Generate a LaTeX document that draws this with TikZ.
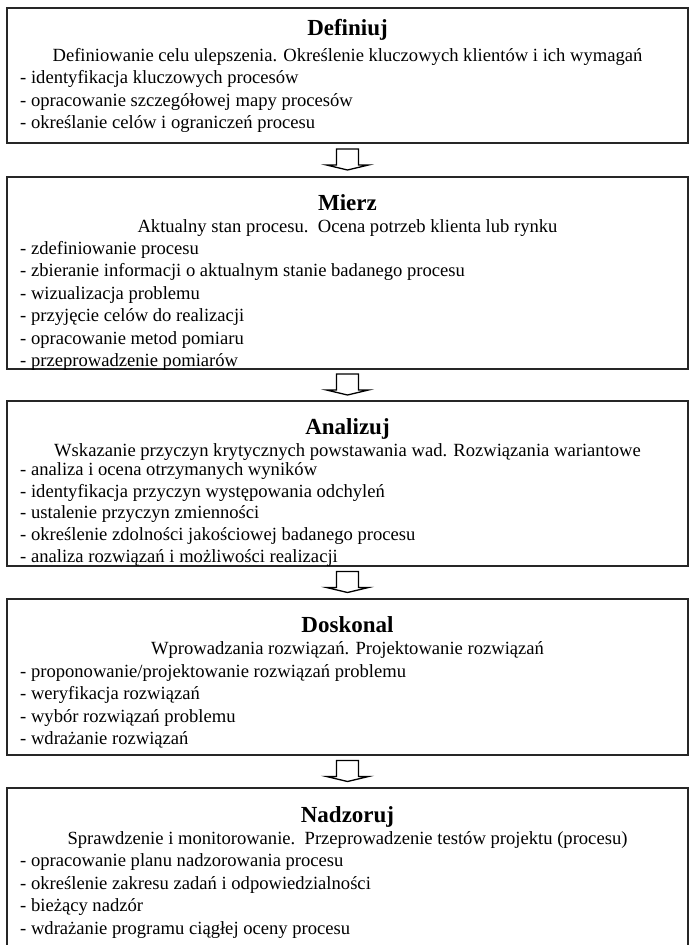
\documentclass[tikz,border=0pt]{standalone}
\usepackage{fontspec}
\setmainfont{Liberation Serif}
\usetikzlibrary{calc}
\tikzset{
  stagebox/.style={draw=black!85, line width=1.6pt, anchor=north west, minimum width=681pt, inner sep=0pt, outer sep=0pt},
  stagetitle/.style={anchor=base, font=\fontsize{23}{26}\selectfont\bfseries, inner sep=0pt},
  stagesub/.style={anchor=base, font=\fontsize{18.6}{22}\selectfont, inner sep=0pt},
  stagelist/.style={anchor=base west, font=\fontsize{18.6}{22.5}\selectfont, align=left, inner sep=0pt},
  blockarrow/.style={draw=black, line width=1.3pt, fill=white, line join=miter}
}
\newcommand\stagearrow[3]{%
  \path ($(#1.south)!0.5!(#2.north)$) coordinate (#3);
  \draw[blockarrow] ([shift={(-11pt,11pt)}]#3) -- ([shift={(-11pt,-5pt)}]#3) -- ([shift={(-21pt,-5pt)}]#3)
    -- ([shift={(0pt,-10pt)}]#3) -- ([shift={(21pt,-5pt)}]#3) -- ([shift={(11pt,-5pt)}]#3)
    -- ([shift={(11pt,11pt)}]#3) -- cycle;}
\begin{document}
\begin{tikzpicture}[x=1pt,y=-1pt]
\useasboundingbox (0,0) rectangle (690,945);
\clip (0,0) rectangle (690,945);
% boxes
\node[stagebox, minimum height=135pt] (b1) at (7,8) {};
\node[stagebox, minimum height=192pt] (b2) at (7,177) {};
\node[stagebox, minimum height=165pt] (b3) at (7,401) {};
\node[stagebox, minimum height=156pt] (b4) at (7,599) {};
\node[stagebox, minimum height=200pt] (b5) at (7,788) {};
% box 1 (list anchor = baseline of its last line)
\node[stagetitle] (t1) at (347.5,35) {Definiuj};
\node[stagesub] (s1) at (347.5,61) {Definiowanie celu ulepszenia. Określenie kluczowych klientów i ich wymagań};
\node[stagelist] (l1) at (20,128.5) {- identyfikacja kluczowych procesów\\- opracowanie szczegółowej mapy procesów\\- określanie celów i ograniczeń procesu};
% box 2
\node[stagetitle] (t2) at (347.5,210) {Mierz};
\node[stagesub] (s2) at (347.5,232) {Aktualny stan procesu.\ \ Ocena potrzeb klienta lub rynku};
\node[stagelist] (l2) at (20,366.5) {- zdefiniowanie procesu\\- zbieranie informacji o aktualnym stanie badanego procesu\\- wizualizacja problemu\\- przyjęcie celów do realizacji\\- opracowanie metod pomiaru\\- przeprowadzenie pomiarów};
% box 3
\node[stagetitle] (t3) at (347.5,434) {Analizuj};
\node[stagesub] (s3) at (347.5,456) {Wskazanie przyczyn krytycznych powstawania wad. Rozwiązania wariantowe};
\node[stagelist, font=\fontsize{18.6}{21.6}\selectfont] (l3) at (20,562) {- analiza i ocena otrzymanych wyników\\- identyfikacja przyczyn występowania odchyleń\\- ustalenie przyczyn zmienności\\- określenie zdolności jakościowej badanego procesu\\- analiza rozwiązań i możliwości realizacji};
% box 4
\node[stagetitle] (t4) at (347.5,632) {Doskonal};
\node[stagesub] (s4) at (347.5,654) {Wprowadzania rozwiązań. Projektowanie rozwiązań};
\node[stagelist] (l4) at (20,744.5) {- proponowanie/projektowanie rozwiązań problemu\\- weryfikacja rozwiązań\\- wybór rozwiązań problemu\\- wdrażanie rozwiązań};
% box 5
\node[stagetitle] (t5) at (347.5,822) {Nadzoruj};
\node[stagesub] (s5) at (347.5,844) {Sprawdzenie i monitorowanie.\ \ Przeprowadzenie testów projektu (procesu)};
\node[stagelist] (l5) at (20,934) {- opracowanie planu nadzorowania procesu\\- określenie zakresu zadań i odpowiedzialności\\- bieżący nadzór\\- wdrażanie programu ciągłej oceny procesu};
% arrows
\stagearrow{b1}{b2}{m1}
\stagearrow{b2}{b3}{m2}
\stagearrow{b3}{b4}{m3}
\stagearrow{b4}{b5}{m4}
\end{tikzpicture}
\end{document}
